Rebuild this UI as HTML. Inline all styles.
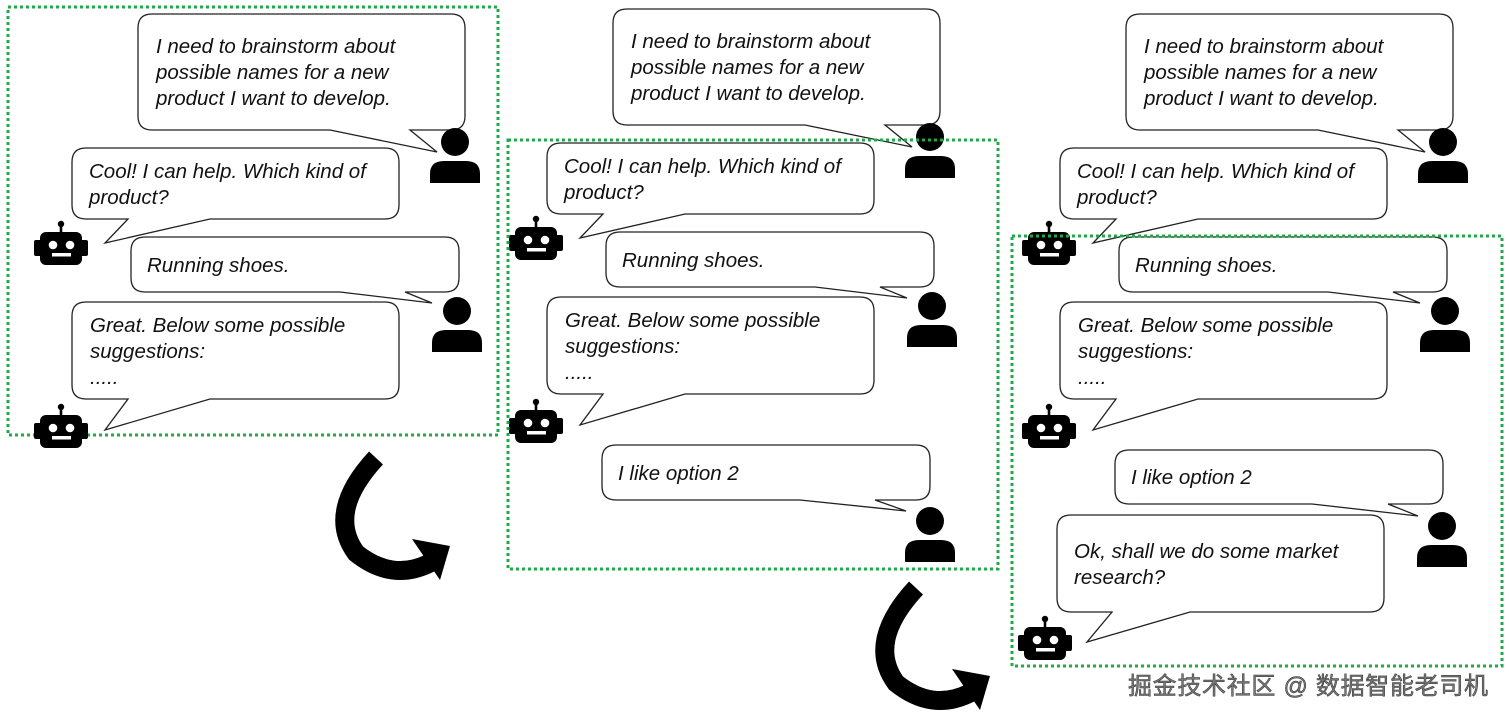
<!DOCTYPE html>
<html><head><meta charset="utf-8"><style>
html,body{margin:0;padding:0;background:#fff;width:1509px;height:719px;overflow:hidden}
svg{display:block}
text{font-family:"Liberation Sans","DejaVu Sans",sans-serif;font-style:italic;font-size:20.5px;fill:#111}
.b{fill:#fff;stroke:#222;stroke-width:1.3}
.g{fill:none;stroke:#1faa4a;stroke-width:3;stroke-dasharray:3 3}
</style></head><body>
<svg width="1509" height="719" viewBox="0 0 1509 719" xmlns="http://www.w3.org/2000/svg">
<defs>
<path id="bA" class="b" d="M152,14 H451 Q465,14 465,28 V116 Q465,130 451,130 H410 L437,152 L330,130 H152 Q138,130 138,116 V28 Q138,14 152,14 Z"/>
<path id="bB" class="b" d="M86,148 H385 Q399,148 399,162 V205 Q399,219 385,219 H210 L105,243 L128,219 H86 Q72,219 72,205 V162 Q72,148 86,148 Z"/>
<path id="bC" class="b" d="M145,237 H445 Q459,237 459,251 V278 Q459,292 445,292 H405 L432,303 L340,292 H145 Q131,292 131,278 V251 Q131,237 145,237 Z"/>
<path id="bD" class="b" d="M86,302 H385 Q399,302 399,316 V385 Q399,399 385,399 H210 L105,430 L128,399 H86 Q72,399 72,385 V316 Q72,302 86,302 Z"/>
<g id="user"><circle cx="0" cy="0" r="14"/><path d="M-25,41 V32 Q-25,19 -11,19 H11 Q25,19 25,32 V41 Z"/></g>
<g id="bot"><circle cx="0" cy="-19" r="3.2"/><rect x="-1.3" y="-19" width="2.6" height="9"/><rect x="-21" y="-11" width="42" height="33" rx="6"/><rect x="-27" y="-3" width="54" height="16" rx="2"/><circle cx="-8" cy="2" r="4.3" fill="#fff"/><circle cx="9" cy="2" r="4.3" fill="#fff"/><rect x="-9" y="10" width="19" height="3.5" fill="#fff"/></g>
<g id="arrow"><path d="M376,458 Q326,512 356,553 Q392,582 430,563" fill="none" stroke="#000" stroke-width="19"/><polygon points="412,539 450,546 440,580"/></g>
</defs>

<!-- Panel 1 -->
<rect class="g" x="8" y="7" width="490" height="428"/>
<use href="#bA"/><use href="#bB"/><use href="#bC"/><use href="#bD"/>
<text x="156" y="53">I need to brainstorm about</text>
<text x="156" y="79">possible names for a new</text>
<text x="156" y="105">product I want to develop.</text>
<text x="89" y="178">Cool! I can help. Which kind of</text>
<text x="89" y="204">product?</text>
<text x="147" y="272">Running shoes.</text>
<text x="90" y="332">Great. Below some possible</text>
<text x="90" y="358">suggestions:</text>
<text x="90" y="384">.....</text>
<use href="#user" x="455" y="142"/><use href="#user" x="457" y="311"/>
<use href="#bot" x="61" y="243"/><use href="#bot" x="61" y="426"/>

<use href="#arrow"/>
<use href="#arrow" x="540" y="130"/>

<!-- Panel 2 -->
<g transform="translate(475,-5)">
<use href="#bA"/><use href="#bB"/><use href="#bC"/><use href="#bD"/>
<text x="156" y="53">I need to brainstorm about</text>
<text x="156" y="79">possible names for a new</text>
<text x="156" y="105">product I want to develop.</text>
<text x="89" y="178">Cool! I can help. Which kind of</text>
<text x="89" y="204">product?</text>
<text x="147" y="272">Running shoes.</text>
<text x="90" y="332">Great. Below some possible</text>
<text x="90" y="358">suggestions:</text>
<text x="90" y="384">.....</text>
<use href="#user" x="455" y="142"/><use href="#user" x="457" y="311"/>
<use href="#bot" x="61" y="243"/><use href="#bot" x="61" y="426"/>
</g>
<rect class="g" x="508" y="140" width="490" height="429"/>
<path class="b" d="M616,445 H916 Q930,445 930,459 V486 Q930,500 916,500 H875 L906,511 L800,500 H616 Q602,500 602,486 V459 Q602,445 616,445 Z"/>
<text x="618" y="480">I like option 2</text>
<use href="#user" x="930" y="521"/>

<!-- Panel 3 -->
<g transform="translate(988,0)">
<use href="#bA"/><use href="#bB"/><use href="#bC"/><use href="#bD"/>
<text x="156" y="53">I need to brainstorm about</text>
<text x="156" y="79">possible names for a new</text>
<text x="156" y="105">product I want to develop.</text>
<text x="89" y="178">Cool! I can help. Which kind of</text>
<text x="89" y="204">product?</text>
<text x="147" y="272">Running shoes.</text>
<text x="90" y="332">Great. Below some possible</text>
<text x="90" y="358">suggestions:</text>
<text x="90" y="384">.....</text>
<use href="#user" x="455" y="142"/><use href="#user" x="457" y="311"/>
<use href="#bot" x="61" y="243"/><use href="#bot" x="61" y="426"/>
</g>
<rect class="g" x="1012" y="236" width="490" height="430"/>
<path class="b" d="M1129,450 H1429 Q1443,450 1443,464 V490 Q1443,504 1429,504 H1388 L1418,516 L1312,504 H1129 Q1115,504 1115,490 V464 Q1115,450 1129,450 Z"/>
<text x="1131" y="484">I like option 2</text>
<use href="#user" x="1442" y="526"/>
<path class="b" d="M1071,515 H1370 Q1384,515 1384,529 V598 Q1384,612 1370,612 H1190 L1087,642 L1112,612 H1071 Q1057,612 1057,598 V529 Q1057,515 1071,515 Z"/>
<text x="1074" y="558">Ok, shall we do some market</text>
<text x="1074" y="584">research?</text>
<use href="#bot" x="1045" y="638"/>

<text x="1128" y="694" textLength="360" style="font-style:normal;font-size:24px;fill:#777;stroke:#333;stroke-width:0.5;font-family:'Liberation Sans','Noto Sans CJK SC',sans-serif">掘金技术社区 @ 数据智能老司机</text>
</svg>
</body></html>
